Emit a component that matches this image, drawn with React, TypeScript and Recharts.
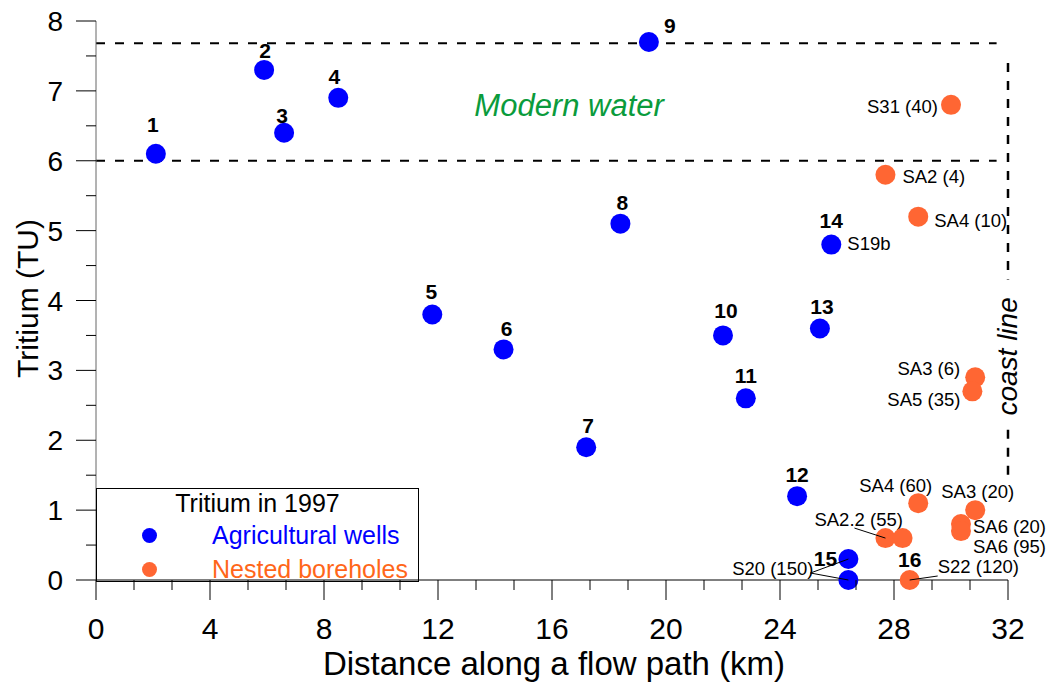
import React from 'react';
import {
  ScatterChart,
  Scatter,
  XAxis,
  YAxis,
  ReferenceLine,
  ReferenceDot,
  Legend,
  Label,
} from 'recharts';

const FONT = "Arial, 'Liberation Sans', Helvetica, sans-serif";
const BLUE = '#0000FF';
const ORANGE = '#FF6633';

// agricultural wells (blue)
const wellDistance = [2.1, 5.9, 6.6, 8.5, 11.8, 14.3, 17.2, 18.4, 19.4, 22.0, 22.8, 24.6, 25.4, 25.8, 26.4, 26.4];
const wellTritium = [6.1, 7.3, 6.4, 6.9, 3.8, 3.3, 1.9, 5.1, 7.7, 3.5, 2.6, 1.2, 3.6, 4.8, 0.3, 0.0];
const wellNumbers = ['1', '2', '3', '4', '5', '6', '7', '8', '9', '10', '11', '12', '13', '14', '15', ''];
const wellNames = ['', '', '', '', '', '', '', '', '', '', '', '', '', 'S19b', 'S20 (150)', ''];

// nested boreholes (orange)
const boreDistance = [30.0, 27.7, 28.85, 30.85, 30.75, 28.85, 30.85, 30.35, 30.35, 27.7, 28.3, 28.55];
const boreTritium = [6.8, 5.8, 5.2, 2.9, 2.7, 1.1, 1.0, 0.8, 0.7, 0.6, 0.6, 0.0];
const boreNumbers = ['', '', '', '', '', '', '', '', '', '', '', '16'];
const boreNames = ['S31 (40)', 'SA2 (4)', 'SA4 (10)', 'SA3 (6)', 'SA5 (35)', 'SA4 (60)', 'SA3 (20)', 'SA6 (20)', 'SA6 (95)', 'SA2.2 (55)', '', 'S22 (120)'];

const xMajorTicks = [0, 4, 8, 12, 16, 20, 24, 28, 32];
const xMinorPerMajor = 3;
const yMajorTicks = [0, 1, 2, 3, 4, 5, 6, 7, 8];
const yMinorPerMajor = 2;

const modernWaterTop = 7.68;
const modernWaterBottom = 6;
const modernWaterEnd = 31.6;
const coastX = 32;

const wells = wellDistance.map((x, i) => ({ x, y: wellTritium[i], num: wellNumbers[i], name: wellNames[i], key: 'w' + i }));
const bores = boreDistance.map((x, i) => ({ x, y: boreTritium[i], num: boreNumbers[i], name: boreNames[i], key: 'b' + i }));

const subdivide = (majors: number[], n: number) => {
  const out: number[] = [];
  for (let i = 0; i < majors.length - 1; i++) {
    const step = (majors[i + 1] - majors[i]) / n;
    for (let k = 0; k < n; k++) out.push(majors[i] + k * step);
  }
  out.push(majors[majors.length - 1]);
  return out;
};
const xTicks = subdivide(xMajorTicks, xMinorPerMajor);
const yTicks = subdivide(yMajorTicks, yMinorPerMajor);
const isMajor = (v: number, majors: number[]) => majors.some((m) => Math.abs(m - v) < 1e-6);

// label placement, pixels from the marker centre
const numberPos: Record<string, [number, number]> = {
  '1': [-3, -22], '2': [1, -12], '3': [-2, -10], '4': [-4, -14], '5': [-1, -15], '6': [3, -13],
  '7': [2, -14], '8': [2, -14], '9': [21, -9], '10': [3, -17], '11': [0, -15], '12': [0, -14],
  '13': [2, -14], '14': [0, -17], '15': [-23, 7], '16': [0, -13],
};
const namePos: Record<string, [number, number, 'start' | 'end']> = {
  'S19b': [16, 5, 'start'],
  'S20 (150)': [-35, 16, 'end'],
  'S31 (40)': [-13, 8, 'end'],
  'SA2 (4)': [17, 8, 'start'],
  'SA4 (10)': [16, 10, 'start'],
  'SA3 (6)': [-15, -2, 'end'],
  'SA5 (35)': [-12, 15, 'end'],
  'SA4 (60)': [14, -11, 'end'],
  'SA3 (20)': [-34, -12, 'start'],
  'SA6 (20)': [12, 9, 'start'],
  'SA6 (95)': [12, 22, 'start'],
  'SA2.2 (55)': [-71, -12, 'start'],
  'S22 (120)': [28, -7, 'start'],
};
const leaders: Record<string, [number, number]> = {
  w14: [-38, 14],
  w15: [-38, -7],
  b9: [-31, -10],
  b11: [28, -4],
};

const Marker = (color: string) => (props: any) => {
  const { cx, cy, payload } = props;
  if (cx == null || cy == null) return null;
  const np = numberPos[payload.num];
  const nm = namePos[payload.name];
  const ld = leaders[payload.key];
  return (
    <g>
      <circle cx={cx} cy={cy} r={10} fill={color} />
      {ld && <line x1={cx} y1={cy} x2={cx + ld[0]} y2={cy + ld[1]} stroke="#000" strokeWidth={1} />}
      {payload.num && np && (
        <text x={cx + np[0]} y={cy + np[1]} textAnchor="middle" fontSize={21} fontWeight="bold" fontFamily={FONT} fill="#000">
          {payload.num}
        </text>
      )}
      {payload.name && nm && (
        <text x={cx + nm[0]} y={cy + nm[1]} textAnchor={nm[2]} fontSize={18.5} fontFamily={FONT} fill="#000">
          {payload.name}
        </text>
      )}
    </g>
  );
};

const XTick = (props: any) => {
  const { x, y, payload } = props;
  const major = isMajor(payload.value, xMajorTicks);
  return (
    <g>
      <line x1={x} x2={x} y1={y} y2={y + (major ? 20 : 10)} stroke="#000" />
      {major && (
        <text x={x} y={y + 59} textAnchor="middle" fontSize={30} fontFamily={FONT} fill="#000">
          {Math.round(payload.value)}
        </text>
      )}
    </g>
  );
};

const YTick = (props: any) => {
  const { x, y, payload } = props;
  const major = isMajor(payload.value, yMajorTicks);
  return (
    <g>
      <line x1={x} x2={x - (major ? 20 : 10)} y1={y} y2={y} stroke="#000" />
      {major && (
        <text x={x - 33} y={y + 10} textAnchor="end" fontSize={28} fontFamily={FONT} fill="#000">
          {Math.round(payload.value)}
        </text>
      )}
    </g>
  );
};

const XTitle = (props: any) => {
  const vb = props.viewBox;
  return (
    <text x={vb.x + vb.width / 2 + 2} y={vb.y + 95} textAnchor="middle" fontSize={33} fontFamily={FONT} fill="#000">
      Distance along a flow path (km)
    </text>
  );
};

const YTitle = (props: any) => {
  const vb = props.viewBox;
  const cx = 38;
  const cy = vb.y + vb.height / 2 - 2;
  return (
    <text x={cx} y={cy} transform={`rotate(-90 ${cx} ${cy})`} textAnchor="middle" fontSize={30} fontFamily={FONT} fill="#000">
      Tritium (TU)
    </text>
  );
};

const LegendBox = (props: any) => {
  const items = props.payload || [];
  return (
    <div
      style={{
        width: 323,
        height: 94,
        border: '1px solid #000',
        boxSizing: 'border-box',
        position: 'relative',
        fontFamily: FONT,
        fontSize: 25,
        lineHeight: '25px',
      }}
    >
      <div style={{ position: 'absolute', left: 0, right: 0, top: 2, textAlign: 'center', color: '#000' }}>Tritium in 1997</div>
      {items.map((it: any, i: number) => (
        <React.Fragment key={it.value}>
          <div
            style={{
              position: 'absolute',
              left: 45,
              top: 39 + i * 34,
              width: 15,
              height: 15,
              borderRadius: '50%',
              background: it.color,
            }}
          />
          <div style={{ position: 'absolute', left: 115, top: 34 + i * 34, color: i === 0 ? BLUE : '#FF6619', whiteSpace: 'nowrap' }}>
            {it.value}
          </div>
        </React.Fragment>
      ))}
    </div>
  );
};

export default function App() {
  return (
    <div style={{ position: 'absolute', left: 0, top: 0, background: '#fff' }}>
      <ScatterChart width={1052} height={689} margin={{ top: 21, right: 44, bottom: 0, left: 0 }}>
        <XAxis
          type="number"
          dataKey="x"
          domain={[0, 32]}
          ticks={xTicks}
          interval={0}
          tickSize={0}
          tickMargin={0}
          tickLine={false}
          tick={<XTick />}
          height={109}
          axisLine={{ stroke: '#000', strokeWidth: 1 }}
        >
          <Label content={<XTitle />} />
        </XAxis>
        <YAxis
          type="number"
          dataKey="y"
          domain={[0, 8]}
          ticks={yTicks}
          interval={0}
          tickSize={0}
          tickMargin={0}
          tickLine={false}
          tick={<YTick />}
          width={96}
          axisLine={{ stroke: '#666', strokeWidth: 1 }}
        >
          <Label content={<YTitle />} />
        </YAxis>
        <ReferenceLine
          segment={[{ x: 0, y: modernWaterTop }, { x: modernWaterEnd, y: modernWaterTop }]}
          stroke="#000"
          strokeWidth={2}
          strokeDasharray="9 10"
        />
        <ReferenceLine
          segment={[{ x: 0, y: modernWaterBottom }, { x: modernWaterEnd, y: modernWaterBottom }]}
          stroke="#000"
          strokeWidth={2}
          strokeDasharray="9 10"
        />
        <ReferenceLine
          segment={[{ x: coastX, y: 7.4 }, { x: coastX, y: 4.3 }]}
          stroke="#000"
          strokeWidth={2.5}
          strokeDasharray="9 9"
        />
        <ReferenceLine
          segment={[{ x: coastX, y: 2.15 }, { x: coastX, y: 1.43 }]}
          stroke="#000"
          strokeWidth={2.5}
          strokeDasharray="9 9"
        />
        <ReferenceDot
          x={16.6}
          y={6.8}
          r={0}
          shape={(p: any) => (
            <text x={p.cx} y={p.cy + 11} textAnchor="middle" fontSize={31} fontStyle="italic" fontFamily={FONT} fill="#0A9B3C">
              Modern water
            </text>
          )}
        />
        <ReferenceDot
          x={coastX}
          y={3.2}
          r={0}
          shape={(p: any) => (
            <text
              x={p.cx + 9}
              y={p.cy}
              transform={`rotate(-90 ${p.cx + 9} ${p.cy})`}
              textAnchor="middle"
              fontSize={28}
              fontStyle="italic"
              fontFamily={FONT}
              fill="#000"
            >
              coast line
            </text>
          )}
        />
        <Legend
          layout="vertical"
          align="center"
          verticalAlign="middle"
          content={<LegendBox />}
          wrapperStyle={{ left: 96, top: 488, width: 323, height: 94 }}
        />
        <Scatter name="Agricultural wells" data={wells} fill={BLUE} shape={Marker(BLUE)} isAnimationActive={false} />
        <Scatter name="Nested boreholes" data={bores} fill={ORANGE} shape={Marker(ORANGE)} isAnimationActive={false} />
      </ScatterChart>
    </div>
  );
}
